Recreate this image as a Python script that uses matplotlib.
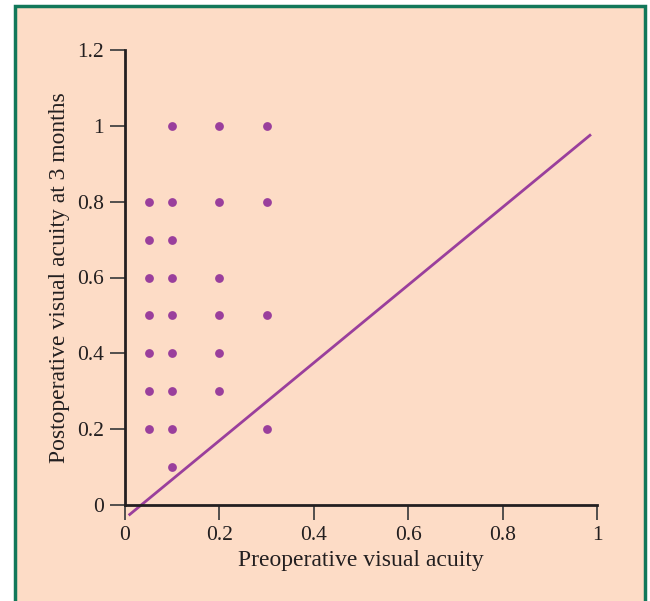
import matplotlib.pyplot as plt
from matplotlib.patches import Rectangle

# ----------------------------------------------------
# Data
# ----------------------------------------------------

pre_acuity = [0.05, 0.05, 0.05, 0.05, 0.05, 0.05, 0.05,
              0.1, 0.1, 0.1, 0.1, 0.1, 0.1, 0.1, 0.1, 0.1,
              0.2, 0.2, 0.2, 0.2, 0.2, 0.2,
              0.3, 0.3, 0.3, 0.3]
post_acuity = [0.8, 0.7, 0.6, 0.5, 0.4, 0.3, 0.2,
               1.0, 0.8, 0.7, 0.6, 0.5, 0.4, 0.3, 0.2, 0.1,
               1.0, 0.8, 0.6, 0.5, 0.4, 0.3,
               1.0, 0.8, 0.5, 0.2]

line_x = [0.01, 0.985]
line_y = [-0.025, 0.975]

x_ticks = [0, 0.2, 0.4, 0.6, 0.8, 1]
x_labels = ["0", "0.2", "0.4", "0.6", "0.8", "1"]
y_ticks = [0, 0.2, 0.4, 0.6, 0.8, 1, 1.2]
y_labels = ["0", "0.2", "0.4", "0.6", "0.8", "1", "1.2"]

# ----------------------------------------------------
# Figure
# ----------------------------------------------------

bg = "#fddcc6"
purple = "#9a3f9c"
ink = "#231f20"

plt.rcParams["font.family"] = "Liberation Serif"

fig = plt.figure(figsize=(6.5, 6.01), dpi=100, facecolor="white")

# peach panel with green frame, kept behind the axes
fig.patches.append(Rectangle(
    (15 / 650, -0.05), 630 / 650, 1 - 6 / 601 + 0.05,
    transform=fig.transFigure, facecolor=bg,
    edgecolor="#11785a", linewidth=2.5, zorder=-10,
))

ax = fig.add_axes([125 / 650, 1 - 505 / 601, 472 / 650, 455 / 601])
ax.set_facecolor("none")

ax.scatter(pre_acuity, post_acuity, s=40, color=purple, zorder=3, linewidths=0)
ax.plot(line_x, line_y, color=purple, linewidth=2, clip_on=False, zorder=2)

ax.set_xlim(0, 1)
ax.set_ylim(0, 1.2)
ax.set_xticks(x_ticks)
ax.set_xticklabels(x_labels)
ax.set_yticks(y_ticks)
ax.set_yticklabels(y_labels)

for side in ["top", "right"]:
    ax.spines[side].set_visible(False)
for side in ["left", "bottom"]:
    ax.spines[side].set_linewidth(2)
    ax.spines[side].set_color(ink)

ax.tick_params(direction="out", length=11, width=1.3, color="#444444",
               labelsize=15.5, labelcolor=ink, pad=4)

ax.set_xlabel("Preoperative visual acuity", fontsize=17, color=ink, labelpad=4)
ax.set_ylabel("Postoperative visual acuity at 3 months", fontsize=17,
              color=ink, labelpad=5)

plt.savefig("out.png", dpi=100, facecolor="white")
